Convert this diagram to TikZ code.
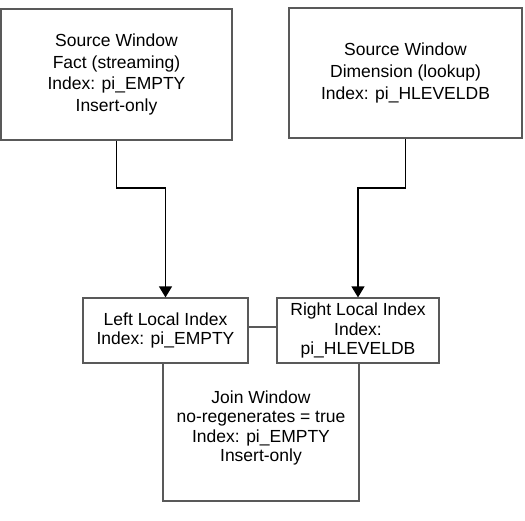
\documentclass[tikz,border=0pt]{standalone}
\usepackage{fontspec}
\setmainfont{Liberation Sans}
\usetikzlibrary{calc,arrows.meta,positioning}

\begin{document}
\begin{tikzpicture}[x=1pt,y=-1pt,
	winbox/.style={draw=black!65,line width=1.2pt,fill=white,align=center,inner sep=0pt,
		font=\fontsize{17.5}{21.7}\selectfont},
	idxbox/.style={winbox,font=\fontsize{17.5}{19.5}\selectfont},
	wintext/.style={align=center,inner sep=0pt,font=\fontsize{17.5}{19.2}\selectfont},
	flow/.style={line width=1.2pt,-{Triangle[width=13pt,length=11pt]}}]
	\useasboundingbox (0,0) rectangle (525,520);
	
	%%%%%% source windows %%%%%%
	\node[winbox,minimum width=231pt,minimum height=131pt] (fact) at (116.5,74.5)
	{Source Window\\Fact (streaming)\\Index: pi\_EMPTY\\Insert-only};
	\node[winbox,minimum width=233pt,minimum height=130pt] (dim) at (405.5,73)
	{Source Window\\Dimension (lookup)\\Index: pi\_HLEVELDB};
	
	%%%%%% join window (behind the local indexes) %%%%%%
	\node[winbox,minimum width=196pt,minimum height=174pt] (join) at (261,414) {};
	\node[wintext] (jointext) at (261,428)
	{Join Window\\no-regenerates = true\\Index: pi\_EMPTY\\Insert-only};
	
	%%%%%% local indexes %%%%%%
	\node[idxbox,minimum width=165pt,minimum height=65pt] (left) at (165.5,330.5)
	{Left Local Index\\Index: pi\_EMPTY};
	\node[idxbox,minimum width=162pt,minimum height=65pt] (right) at (358,330.5)
	{Right Local Index\\Index:\\pi\_HLEVELDB};
	
	%%%%%% flows %%%%%%
	\draw[flow] (fact.south) -- (fact.south |- 0,188) -| (left.north);
	\draw[flow] (dim.south) -- (dim.south |- 0,188) -| (right.north);
\end{tikzpicture}
\end{document}
